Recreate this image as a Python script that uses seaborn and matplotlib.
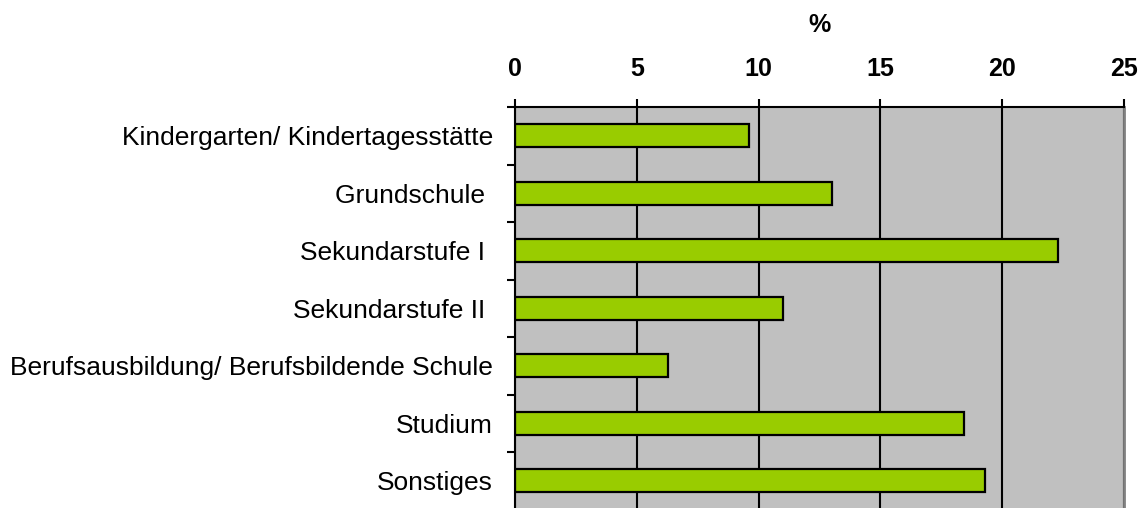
import matplotlib
matplotlib.use('Agg')
import matplotlib.pyplot as plt
import seaborn as sns
import pandas as pd

categories = ['Kindergarten/ Kindertagesstätte', 'Grundschule ', 'Sekundarstufe I ',
              'Sekundarstufe II ', 'Berufsausbildung/ Berufsbildende Schule',
              'Studium', 'Sonstiges']
values = [9.6, 13.0, 22.3, 11.0, 6.3, 18.45, 19.3]
x_ticks = [0, 5, 10, 15, 20, 25]

sns.set_style('white')
plt.rcParams['font.family'] = ['Liberation Sans', 'DejaVu Sans']
plt.rcParams['text.color'] = 'black'
plt.rcParams['axes.labelcolor'] = 'black'
plt.rcParams['xtick.color'] = 'black'
plt.rcParams['ytick.color'] = 'black'

fig = plt.figure(figsize=(11.42, 5.08), dpi=100)
ax = fig.add_axes([515 / 1142, -1.5 / 508, 609 / 1142, 402.5 / 508])
ax.set_facecolor('#C0C0C0')

df = pd.DataFrame({'cat': categories, 'val': values})
sns.barplot(data=df, x='val', y='cat', orient='h', color='#99CC00',
            edgecolor='black', linewidth=1.6, width=0.4, saturation=1, ax=ax)

ax.set_xlim(0, 25)
ax.set_xticks(x_ticks)
ax.set_axisbelow(True)
ax.grid(axis='x', color='black', lw=1.5)

# x axis on top
ax.xaxis.tick_top()
ax.xaxis.set_label_position('top')
ax.set_xlabel('%', fontsize=18, fontweight='bold', labelpad=18)
ax.tick_params(axis='x', length=6, width=1.5, pad=13, labelsize=18)
for lbl in ax.get_xticklabels():
    lbl.set_fontweight('bold')

# y ticks between categories
ax.set_ylabel('')
ax.tick_params(axis='y', which='major', length=0, pad=16, labelsize=19)
ax.set_yticks([i - 0.5 for i in range(len(categories) + 1)], minor=True)
ax.tick_params(axis='y', which='minor', length=6, width=1.5, left=True)

for side in ['top', 'left']:
    ax.spines[side].set_color('black')
    ax.spines[side].set_linewidth(1.5)
ax.spines['right'].set_color('#808080')
ax.spines['right'].set_linewidth(2)
ax.spines['bottom'].set_visible(False)

fig.savefig('out.png', dpi=100)
